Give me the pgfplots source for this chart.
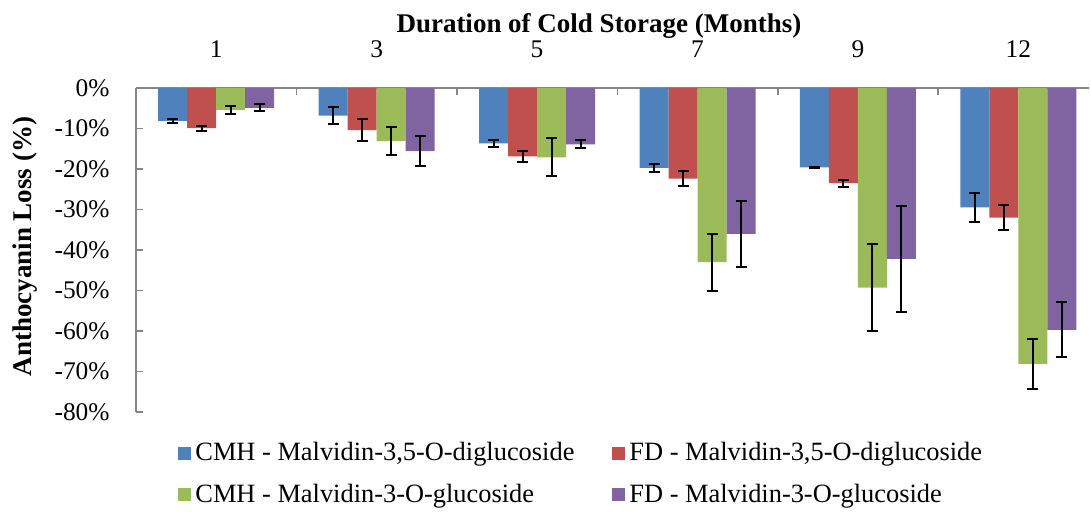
\documentclass[border=0pt]{standalone}
\usepackage{fontspec}
\setmainfont{Liberation Serif}
\usepackage{pgfplots}
\pgfplotsset{compat=1.18}
\definecolor{cA}{HTML}{4F81BD}
\definecolor{cB}{HTML}{C0504D}
\definecolor{cC}{HTML}{9BBB59}
\definecolor{cD}{HTML}{8064A2}
\definecolor{axisgray}{HTML}{868686}
\pgfplotsset{
  mybar/.style={fill=#1, draw=none,
    legend image code/.code={\fill[#1] (0pt,-3.25pt) rectangle (6.5pt,3.25pt);},
    error bars/.cd, y dir=both, y explicit,
    error bar style={draw=black, line width=1pt},
    error mark options={rotate=90, mark size=2.75pt, draw=black, line width=1pt}},
}
\begin{document}
\begin{tikzpicture}
\begin{axis}[
  scale only axis, width=476.5pt, height=162pt,
  xmin=-0.5, xmax=5.44, ymin=-80, ymax=0,
  ybar=0pt, bar width=14.5pt,
  axis x line*=top, axis y line*=left,
  axis line style={axisgray, line width=0.8pt},
  tick style={axisgray, line width=0.8pt},
  tick align=inside,
  major tick length=3.5pt, minor tick length=3.5pt,
  xtick={0,...,5}, xticklabels={1,3,5,7,9,12},
  minor xtick={0.5,1.5,2.5,3.5,4.5},
  major x tick style={draw=none},
  ytick={-80,-70,...,0},
  yticklabels={-80\%,-70\%,-60\%,-50\%,-40\%,-30\%,-20\%,-10\%,0\%},
  tick label style={font=\fontsize{12.7}{15}\selectfont, text=black},
  xticklabel style={anchor=base, yshift=15.5pt},
  yticklabel style={anchor=east, inner sep=0pt, xshift=-13pt},
  legend style={draw=none, fill=none, legend columns=2,
    at={(rel axis cs:0,0)}, anchor=north west, xshift=18pt, yshift=-11pt,
    font=\fontsize{13.2}{15.5}\selectfont, row sep=6pt,
    /tikz/every even column/.append style={column sep=17pt}},
  legend cell align=left,
]
\addplot[mybar=cA] coordinates {
 (0,-8.1) +- (0,0.5)
 (1,-6.8) +- (0,2.2)
 (2,-13.7) +- (0,0.8)
 (3,-19.7) +- (0,1.0)
 (4,-19.6) +- (0,0.2)
 (5,-29.5) +- (0,3.5)
};
\addlegendentry{CMH - Malvidin-3,5-O-diglucoside}
\addplot[mybar=cB] coordinates {
 (0,-9.9) +- (0,0.6)
 (1,-10.4) +- (0,2.8)
 (2,-16.9) +- (0,1.3)
 (3,-22.4) +- (0,1.8)
 (4,-23.5) +- (0,0.9)
 (5,-32.0) +- (0,3.1)
};
\addlegendentry{FD - Malvidin-3,5-O-diglucoside}
\addplot[mybar=cC] coordinates {
 (0,-5.4) +- (0,0.95)
 (1,-13.1) +- (0,3.5)
 (2,-17.1) +- (0,4.7)
 (3,-43.0) +- (0,7.0)
 (4,-49.3) +- (0,10.7)
 (5,-68.1) +- (0,6.1)
};
\addlegendentry{CMH - Malvidin-3-O-glucoside}
\addplot[mybar=cD] coordinates {
 (0,-4.9) +- (0,0.9)
 (1,-15.6) +- (0,3.7)
 (2,-13.9) +- (0,0.95)
 (3,-36.0) +- (0,8.2)
 (4,-42.2) +- (0,13.1)
 (5,-59.7) +- (0,6.8)
};
\addlegendentry{FD - Malvidin-3-O-glucoside}
\end{axis}
\node[font=\fontsize{13.5}{16}\selectfont\bfseries, anchor=base] at (231.5pt,190pt) {Duration of Cold Storage (Months)};
\node[font=\fontsize{13.5}{16}\selectfont\bfseries, rotate=90, anchor=center] at (-55.5pt,82.75pt) {Anthocyanin Loss (\%)};
\pgfresetboundingbox
\useasboundingbox (-68pt,-49.5pt) rectangle (477.5pt,206pt);
\end{tikzpicture}
\end{document}
